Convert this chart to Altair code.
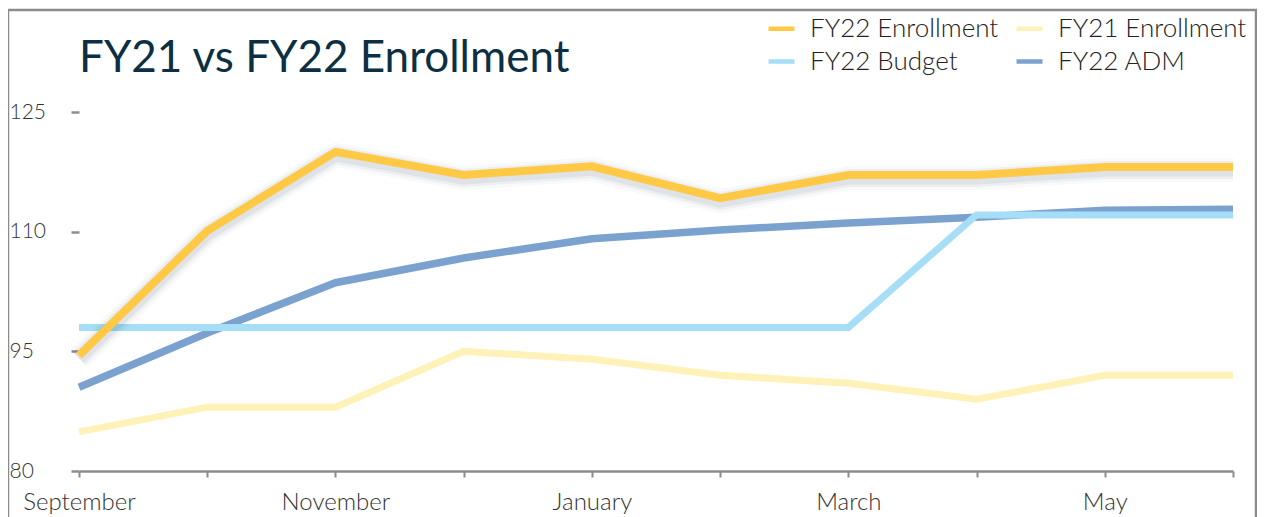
import altair as alt
import pandas as pd

months = ["September", "October", "November", "December", "January",
          "February", "March", "April", "May", "June"]
# legend grid is filled column by column: col 1 = FY22 Enrollment, FY22 Budget
series_names = ["FY22 Enrollment", "FY22 Budget", "FY21 Enrollment", "FY22 ADM"]
series_colors = ["#FFC845", "#A6DEF7", "#FFF2B8", "#7BA2CE"]

fy22_enrollment = [94.5, 110.1, 120.0, 117.1, 118.2, 114.2, 117.1, 117.1, 118.1, 118.1]
fy21_enrollment = [84.9, 88.0, 88.0, 95.0, 94.0, 92.0, 91.0, 89.0, 92.0, 92.0]
fy22_budget = [98.0, 98.0, 98.0, 98.0, 98.0, 98.0, 98.0, 112.1, 112.1, 112.1]
fy22_adm = [90.5, 97.3, 103.6, 106.7, 109.1, 110.2, 111.1, 111.8, 112.7, 112.8]

y_ticks = [80, 95, 110, 125]
hidden_labels = ["October", "December", "February", "April", "June"]

rows = []
for name, vals in [("FY22 Enrollment", fy22_enrollment), ("FY21 Enrollment", fy21_enrollment),
                   ("FY22 Budget", fy22_budget), ("FY22 ADM", fy22_adm)]:
    for m, v in zip(months, vals):
        rows.append({"month": m, "series": name, "value": v})
df = pd.DataFrame(rows)

FONT = "Lato"
GRAY = "#8c8c8c"

x_enc = alt.X(
    "month:N", sort=months,
    scale=alt.Scale(type="point", padding=0),
    axis=alt.Axis(
        title=None, labelAngle=0, labelFont=FONT, labelFontSize=24, labelFontWeight=300,
        labelColor="#333333", labelPadding=13, domainColor=GRAY, domainWidth=2.5,
        tickColor=GRAY, tickWidth=2, tickSize=6, grid=False, labelLimit=300,
        labelExpr="indexof(" + str(hidden_labels) + ", datum.value) >= 0 ? '' : datum.label",
    ),
)
y_enc = alt.Y(
    "value:Q",
    scale=alt.Scale(domain=[80, 125], nice=False, zero=False),
    axis=alt.Axis(
        title=None, values=y_ticks, domain=False, grid=False, tickColor=GRAY,
        tickWidth=2.5, tickSize=8, labelAlign="left", labelBaseline="middle",
        labelPadding=62, labelFont=FONT, labelFontSize=21, labelFontWeight=300,
        labelColor="#333333",
    ),
)
color_enc = alt.Color(
    "series:N",
    scale=alt.Scale(domain=series_names, range=series_colors),
    legend=alt.Legend(
        title=None, orient="none", legendX=687, legendY=-99, columns=2,
        symbolType="stroke", symbolStrokeWidth=4.5, symbolSize=676,
        labelFont=FONT, labelFontSize=26, labelFontWeight=300, labelColor="#222222",
        labelOffset=13, labelLimit=400, columnPadding=8, rowPadding=4, padding=0,
    ),
)

base = alt.Chart(df)


def series_line(name, width):
    return base.transform_filter(alt.datum.series == name).mark_line(
        strokeWidth=width, strokeJoin="miter"
    ).encode(x=x_enc, y=y_enc, color=color_enc)


shadows = []
for w, op in [(24, 0.03), (18, 0.05), (13, 0.07)]:
    shadows.append(
        base.transform_filter(alt.datum.series == "FY22 Enrollment").mark_line(
            strokeWidth=w, color="#2c3e50", opacity=op, yOffset=3, strokeJoin="round"
        ).encode(x=x_enc, y=y_enc)
    )

frame = alt.Chart(pd.DataFrame({"k": [0]})).mark_rect(
    fillOpacity=0, stroke=GRAY, strokeWidth=2.5
).encode(x=alt.value(-71), x2=alt.value(1177), y=alt.value(-102), y2=alt.value(430))

title = alt.Chart(pd.DataFrame({"k": [0]})).mark_text(
    align="left", baseline="alphabetic", font=FONT, fontSize=44, color="#0C2F44"
).encode(x=alt.value(0), y=alt.value(-40), text=alt.value("FY21 vs FY22 Enrollment"))

chart = alt.layer(
    frame,
    title,
    series_line("FY21 Enrollment", 7),
    series_line("FY22 ADM", 7.5),
    series_line("FY22 Budget", 7),
    *shadows,
    series_line("FY22 Enrollment", 8),
).properties(
    width=1154, height=359,
    background="white",
    autosize=alt.AutoSizeParams(type="none"),
    padding={"left": 71, "top": 104, "right": 24, "bottom": 46},
).configure_view(stroke=None)

chart.save("out.html", embed_options={"renderer": "svg", "actions": False})
